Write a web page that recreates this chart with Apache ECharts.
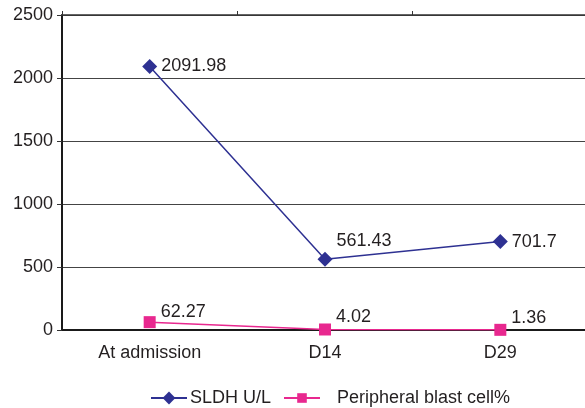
<!DOCTYPE html>
<html>
<head>
<meta charset="utf-8">
<script src="https://cdn.jsdelivr.net/npm/echarts@6/dist/echarts.min.js"></script>
<style>
  html, body { margin: 0; padding: 0; background: #fff; overflow: hidden; }
  #chart { width: 591px; height: 408px; }
</style>
</head>
<body>
<div id="chart"></div>
<script>
// Time points and measurements
const categories = ['At admission', 'D14', 'D29'];
const sldh = [2091.98, 561.43, 701.7];
const blastPct = [62.27, 4.02, 1.36];
const yTicks = { min: 0, max: 2500, interval: 500 };

const font = 'Liberation Sans, Arial, sans-serif';
const textColor = '#231f20';
const fs = 18;

const chart = echarts.init(document.getElementById('chart'));

chart.setOption({
  animation: false,
  grid: { left: 62, top: 15, bottom: 78, right: 3 },
  legend: [
    {
      data: ['SLDH U/L'],
      left: 150, top: 389,
      padding: 0,
      itemWidth: 36, itemHeight: 16,
      itemGap: 4,
      textStyle: { fontFamily: font, fontSize: fs, color: textColor, padding: [0, 0, 0, -2] }
    },
    {
      data: ['Peripheral blast cell%'],
      left: 283, top: 389,
      padding: 0,
      itemWidth: 36, itemHeight: 12,
      textStyle: { fontFamily: font, fontSize: fs, color: textColor, padding: [0, 0, 0, 12] }
    }
  ],
  xAxis: [
    {
      type: 'category',
      data: categories,
      boundaryGap: true,
      position: 'bottom',
      axisLine: { lineStyle: { color: '#1a1a1a', width: 2 } },
      axisTick: { show: false },
      axisLabel: { fontFamily: font, fontSize: fs, color: textColor, margin: 14 }
    },
    {
      type: 'category',
      data: categories,
      boundaryGap: true,
      position: 'top',
      axisLine: { lineStyle: { color: '#333', width: 1.5 } },
      axisTick: { show: true, length: 4, lineStyle: { color: '#333' } },
      axisLabel: { show: false }
    }
  ],
  yAxis: {
    type: 'value',
    min: yTicks.min, max: yTicks.max, interval: yTicks.interval,
    axisLine: { show: true, lineStyle: { color: '#1a1a1a', width: 2 } },
    axisTick: { show: true, length: 5, lineStyle: { color: '#333' } },
    splitLine: { lineStyle: { color: '#444', width: 1 } },
    axisLabel: {
      fontFamily: font, fontSize: fs, color: textColor, margin: 9,
      formatter: v => String(v)
    }
  },
  series: [
    {
      name: 'SLDH U/L',
      type: 'line',
      data: sldh,
      symbol: 'diamond',
      symbolSize: 15,
      itemStyle: { color: '#2e3192' },
      lineStyle: { color: '#2e3192', width: 1.5 },
      label: {
        show: true,
        position: 'right',
        distance: 4,
        fontFamily: font, fontSize: fs, color: textColor,
        formatter: p => String(p.value)
      },
      labelLayout: function (params) {
        if (params.dataIndex === 1) {
          return { dx: 0, dy: -18 };
        }
        return {};
      }
    },
    {
      name: 'Peripheral blast cell%',
      type: 'line',
      data: blastPct,
      symbol: 'rect',
      symbolSize: 12,
      itemStyle: { color: '#e8288f' },
      lineStyle: { color: '#e8288f', width: 1.5 },
      label: {
        show: true,
        position: 'right',
        distance: 5,
        fontFamily: font, fontSize: fs, color: textColor,
        formatter: p => String(p.value)
      },
      labelLayout: function (params) {
        return { dy: params.dataIndex === 0 ? -10 : -12 };
      }
    }
  ]
});
</script>
</body>
</html>
